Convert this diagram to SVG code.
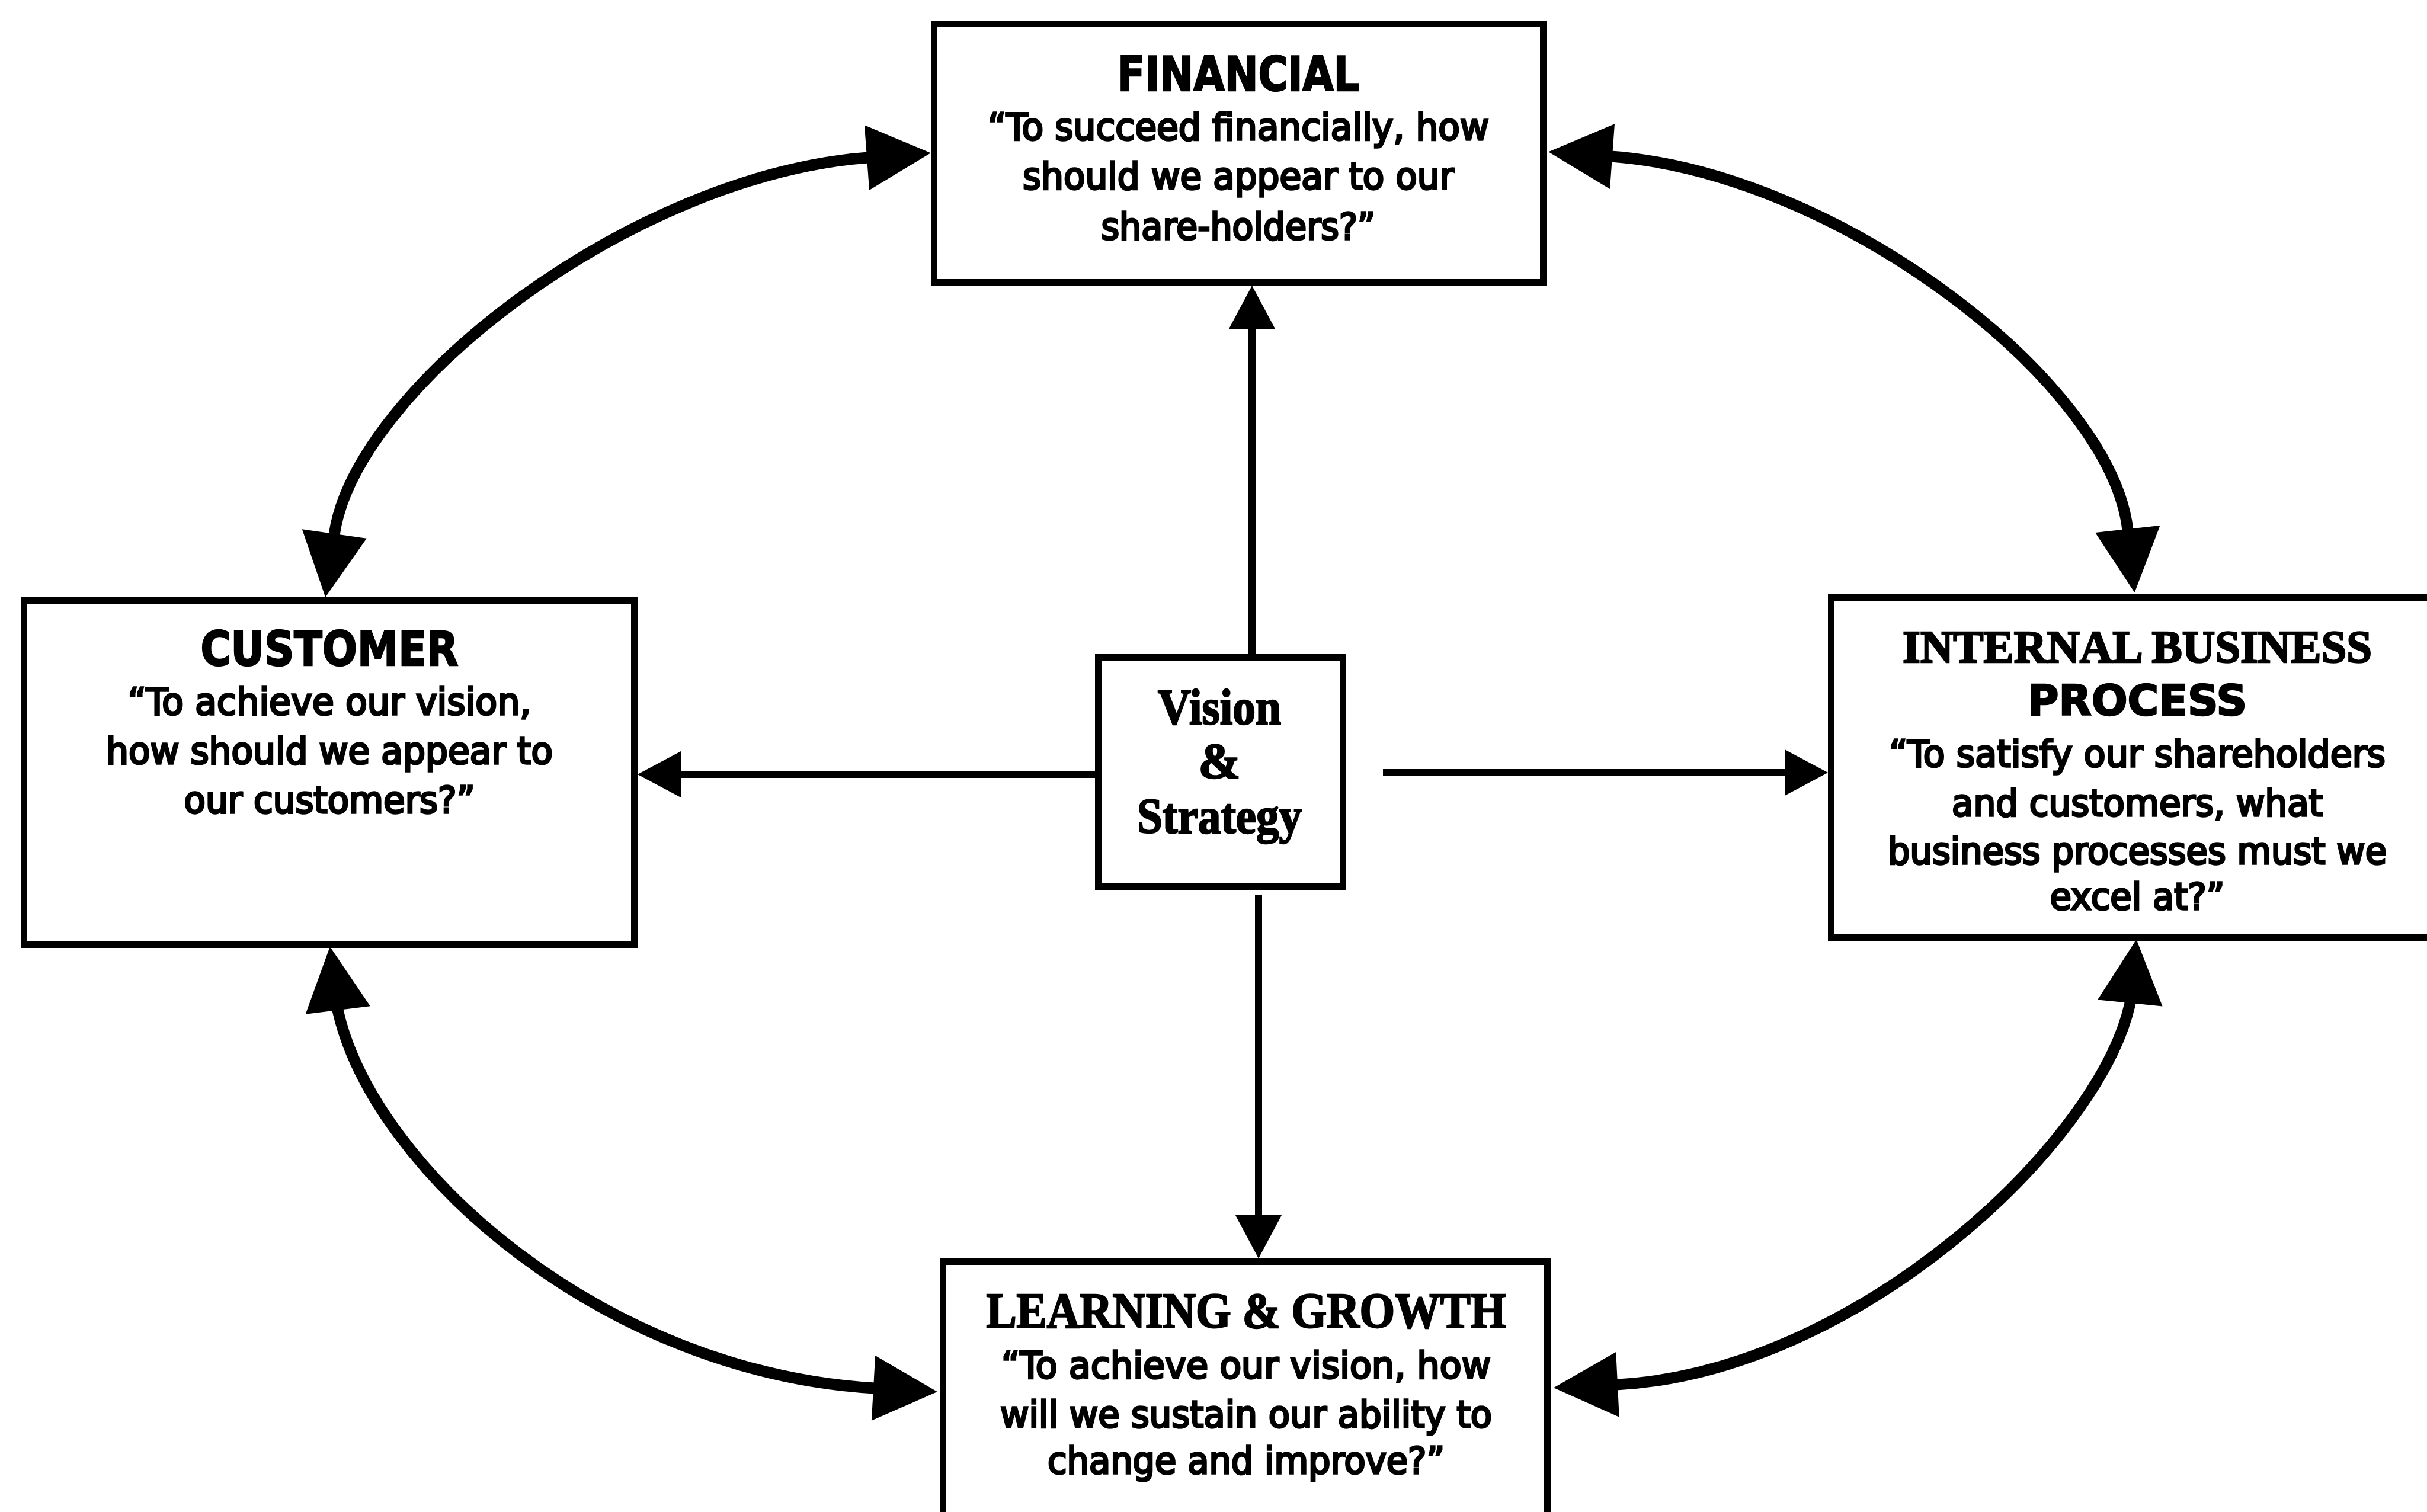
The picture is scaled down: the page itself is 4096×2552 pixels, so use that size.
<svg xmlns="http://www.w3.org/2000/svg" width="4096" height="2552" viewBox="0 0 4096 2552">
  <style>
    .box { fill: #ffffff; stroke: #000000; stroke-width: 11; }
    .thin { fill: none; stroke: #000000; stroke-width: 12; }
    .thick { fill: none; stroke: #000000; stroke-width: 19; }
    text { fill: #000000; text-anchor: middle; }
    .hs { font-family: "DejaVu Sans", "Liberation Sans", sans-serif; font-weight: bold; stroke: #000; stroke-width: 2.5; }
    .hr { font-family: "Liberation Serif", "DejaVu Serif", serif; font-weight: bold; stroke: #000; stroke-width: 2.5; }
    .q { font-family: "DejaVu Sans", "Liberation Sans", sans-serif; font-size: 62px; stroke: #000; stroke-width: 3.5; }
  </style>
  <defs>
    <marker id="headBig" markerUnits="userSpaceOnUse" viewBox="-2 -56 110 112" markerWidth="110" markerHeight="112" refX="0" refY="0" orient="auto-start-reverse" overflow="visible">
      <path d="M-2,-55 L106,0 L-2,55 Z" fill="#000"/>
    </marker>
    <marker id="headSmall" markerUnits="userSpaceOnUse" viewBox="-2 -40 74 80" markerWidth="74" markerHeight="80" refX="0" refY="0" orient="auto" overflow="visible">
      <path d="M-2,-39 L71,0 L-2,39 Z" fill="#000"/>
    </marker>
  </defs>
  <rect width="4096" height="2552" fill="#ffffff"/>

  <!-- connectors -->
  <g id="connectors">
    <!-- outer loop: double-headed curved arrows -->
    <path class="thick" d="M564,903 C599,655.5 1066,295.6 1465,266" marker-start="url(#headBig)" marker-end="url(#headBig)"/>
    <path class="thick" d="M2719,264 C3105,292 3564,648.5 3591,895" marker-start="url(#headBig)" marker-end="url(#headBig)"/>
    <path class="thick" d="M570,1703 L570.5,1707 C632,1976 1021,2317 1476,2343" marker-start="url(#headBig)" marker-end="url(#headBig)"/>
    <path class="thick" d="M3595,1691 L3594.6,1695 C3540,1935 3128,2317 2728,2337" marker-start="url(#headBig)" marker-end="url(#headBig)"/>
    <!-- spokes from the centre -->
    <path class="thin" d="M2113,1104 L2113,553" marker-end="url(#headSmall)"/>
    <path class="thin" d="M2124,1510 L2124,2053" marker-end="url(#headSmall)"/>
    <path class="thin" d="M1848,1307 L1147,1307" marker-end="url(#headSmall)"/>
    <path class="thin" d="M2334,1304 L3014,1304" marker-end="url(#headSmall)"/>
  </g>

  <g id="financial">
    <rect class="box" x="1576.5" y="40.5" width="1028" height="436"/>
    <text class="hs" x="2090" y="153" font-size="81" textLength="408" lengthAdjust="spacingAndGlyphs">FINANCIAL</text>
    <text class="q" x="2090" y="236" textLength="846" lengthAdjust="spacingAndGlyphs">“To succeed financially, how</text>
    <text class="q" x="2090" y="319" textLength="728" lengthAdjust="spacingAndGlyphs">should we appear to our</text>
    <text class="q" x="2090" y="404" textLength="463" lengthAdjust="spacingAndGlyphs">share-holders?”</text>
  </g>

  <g id="customer">
    <rect class="box" x="40.5" y="1013.5" width="1030" height="581"/>
    <text class="hs" x="556" y="1123" font-size="80" textLength="435" lengthAdjust="spacingAndGlyphs">CUSTOMER</text>
    <text class="q" x="556" y="1206" textLength="681" lengthAdjust="spacingAndGlyphs">“To achieve our vision,</text>
    <text class="q" x="556" y="1289" textLength="754" lengthAdjust="spacingAndGlyphs">how should we appear to</text>
    <text class="q" x="556" y="1372" textLength="491" lengthAdjust="spacingAndGlyphs">our customers?”</text>
  </g>

  <g id="internal-business-process">
    <rect class="box" x="3090.5" y="1008.5" width="1200" height="574"/>
    <text class="hr" x="3607" y="1118" font-size="78" textLength="792" lengthAdjust="spacingAndGlyphs">INTERNAL BUSINESS</text>
    <text class="hs" x="3607" y="1207" font-size="71" textLength="370" lengthAdjust="spacingAndGlyphs">PROCESS</text>
    <text class="q" x="3607" y="1294" textLength="838" lengthAdjust="spacingAndGlyphs">“To satisfy our shareholders</text>
    <text class="q" x="3607" y="1377" textLength="626" lengthAdjust="spacingAndGlyphs">and customers, what</text>
    <text class="q" x="3607" y="1458" textLength="842" lengthAdjust="spacingAndGlyphs">business processes must we</text>
    <text class="q" x="3607" y="1535" textLength="295" lengthAdjust="spacingAndGlyphs">excel at?”</text>
  </g>

  <g id="learning-growth">
    <rect class="box" x="1591.5" y="2129.5" width="1020" height="600"/>
    <text class="hr" x="2103" y="2241" font-size="85" textLength="877" lengthAdjust="spacingAndGlyphs">LEARNING &amp; GROWTH</text>
    <text class="q" x="2103" y="2326" textLength="826" lengthAdjust="spacingAndGlyphs">“To achieve our vision, how</text>
    <text class="q" x="2103" y="2409" textLength="830" lengthAdjust="spacingAndGlyphs">will we sustain our ability to</text>
    <text class="q" x="2103" y="2487" textLength="670" lengthAdjust="spacingAndGlyphs">change and improve?”</text>
  </g>

  <g id="vision-strategy">
    <rect class="box" x="1853.5" y="1109.5" width="413" height="387"/>
    <text class="hr" x="2058" y="1222" font-size="85" textLength="208" lengthAdjust="spacingAndGlyphs">Vision</text>
    <text class="hr" x="2058" y="1313" font-size="85">&amp;</text>
    <text class="hr" x="2058" y="1406" font-size="85" textLength="278" lengthAdjust="spacingAndGlyphs">Strategy</text>
  </g>
</svg>
